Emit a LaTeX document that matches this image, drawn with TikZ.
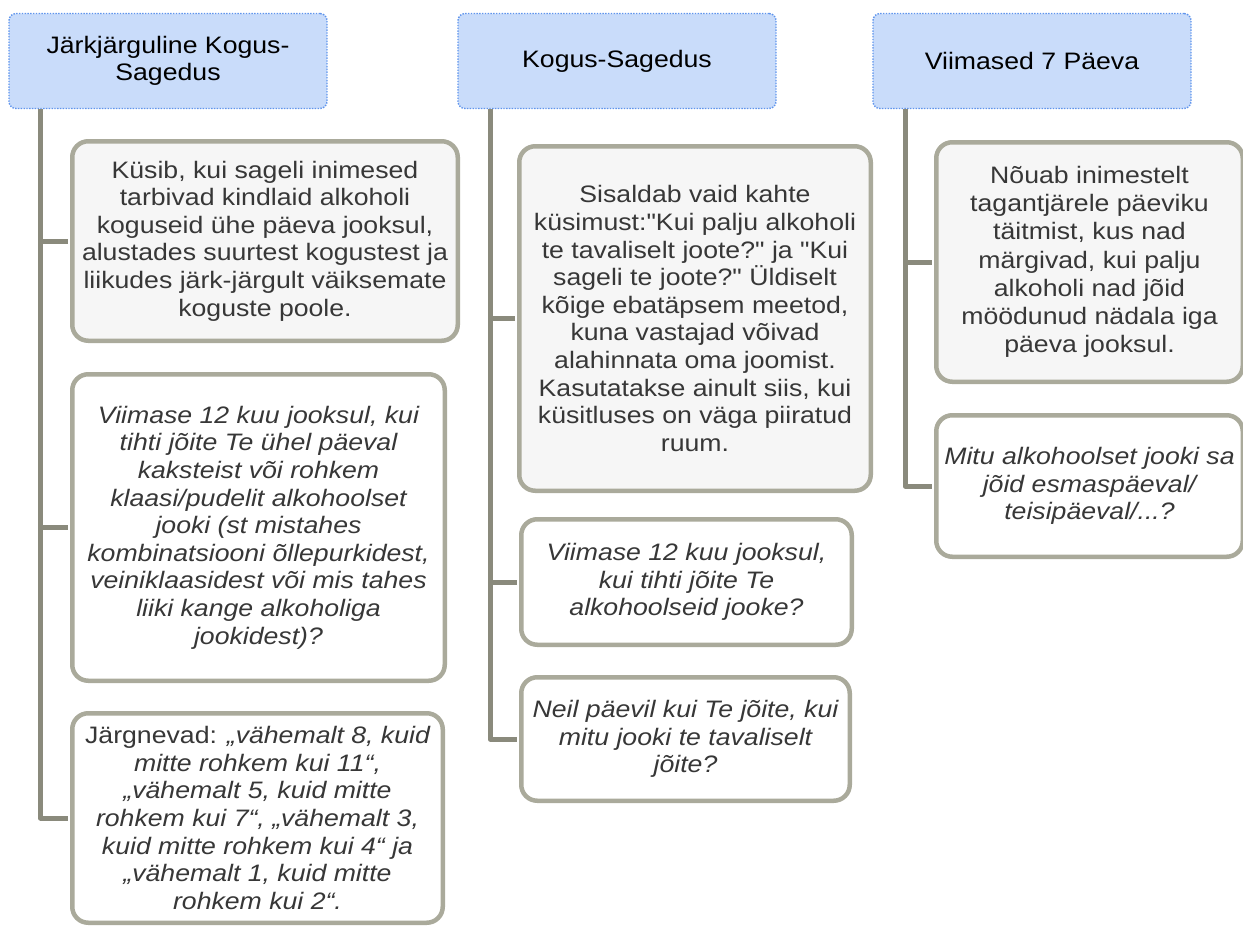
\documentclass[tikz,border=0pt]{standalone}
\usepackage{fontspec}
\usepackage{xcolor}
\usepackage{tikz}
\usetikzlibrary{positioning, calc}
\newfontfamily\diafont{Liberation Sans}[FakeStretch=1.12]
\definecolor{hdrfill}{RGB}{201,220,250}
\definecolor{hdrdot}{RGB}{95,148,236}
\definecolor{boxedge}{RGB}{170,170,155}
\definecolor{spinegray}{RGB}{138,138,124}
\definecolor{boxfill}{RGB}{246,246,246}
\definecolor{txtdark}{RGB}{55,55,55}
\tikzset{
  headbox/.style={rectangle, draw=hdrdot, fill=hdrfill,
    dash pattern=on 1.4pt off 1.4pt, line width=1.4pt,
    rounded corners=7pt, minimum width=318, minimum height=95,
    inner sep=0pt, align=center, text=black,
    font=\diafont\fontsize{23.8}{27.4}\selectfont},
  infobox/.style={rectangle, draw=boxedge, fill=boxfill,
    line width=4.5pt, rounded corners=16pt, inner sep=0pt,
    align=center, text=txtdark,
    font=\diafont\fontsize{23.8}{27.6}\selectfont},
  askbox/.style={infobox, fill=white,
    font=\diafont\fontsize{23.8}{27.6}\selectfont\itshape},
  branch/.style={draw=spinegray, line width=5pt, line join=round,
    shorten >=2pt}
}

\begin{document}
\begin{tikzpicture}[x=1pt, y=-1pt]
  \useasboundingbox (0,0) rectangle (1243,926);

  % Nodes Top (Headers)
  \node[headbox] (hdr_jk) at (168, 61) {Järkjärguline Kogus-\\Sagedus};
  \node[headbox] (hdr_ks) at (617, 61) {Kogus-Sagedus};
  \node[headbox] (hdr_p7) at (1032, 61) {Viimased 7 Päeva};

  % Spine start points
  \coordinate (spine_jk) at (40.5, 109);
  \coordinate (spine_ks) at (490, 109);
  \coordinate (spine_p7) at (905, 109);

  % Column 1
  \node[infobox, minimum width=385.5, minimum height=199.5] (jk_desc) at (265, 241)
    {Küsib, kui sageli inimesed\\tarbivad kindlaid alkoholi\\koguseid ühe päeva jooksul,\\alustades suurtest kogustest ja\\liikudes järk-järgult väiksemate\\koguste poole.};
  \node[askbox, minimum width=372.5, minimum height=306.5] (jk_q1) at (258.5, 527.5)
    {Viimase 12 kuu jooksul, kui\\tihti jõite Te ühel päeval\\kaksteist või rohkem\\klaasi/pudelit alkohoolset\\jooki (st mistahes\\kombinatsiooni õllepurkidest,\\veiniklaasidest või mis tahes\\liiki kange alkoholiga\\jookidest)?};
  \node[askbox, minimum width=370.5, minimum height=209.5] (jk_q2) at (257.5, 818)
    {\upshape Järgnevad: \itshape„vähemalt 8, kuid\\mitte rohkem kui 11“,\\„vähemalt 5, kuid mitte\\rohkem kui 7“, „vähemalt 3,\\kuid mitte rohkem kui 4“ ja\\„vähemalt 1, kuid mitte\\rohkem kui 2“.};

  % Column 2
  \node[infobox, minimum width=351.5, minimum height=344.5] (ks_desc) at (695, 318.5)
    {Sisaldab vaid kahte\\küsimust:"Kui palju alkoholi\\te tavaliselt joote?" ja "Kui\\sageli te joote?" Üldiselt\\kõige ebatäpsem meetod,\\kuna vastajad võivad\\alahinnata oma joomist.\\Kasutatakse ainult siis, kui\\küsitluses on väga piiratud\\ruum.};
  \node[askbox, minimum width=330.5, minimum height=125.5] (ks_q1) at (686.5, 582)
    {Viimase 12 kuu jooksul,\\kui tihti jõite Te\\alkohoolseid jooke?};
  \node[askbox, minimum width=328.5, minimum height=123.5] (ks_q2) at (685.5, 739)
    {Neil päevil kui Te jõite, kui\\mitu jooki te tavaliselt\\jõite?};

  % Column 3
  \node[infobox, minimum width=306.5, minimum height=239.5,
    font=\diafont\fontsize{23.8}{28.2}\selectfont] (p7_desc) at (1089.5, 262)
    {Nõuab inimestelt\\tagantjärele päeviku\\täitmist, kus nad\\märgivad, kui palju\\alkoholi nad jõid\\möödunud nädala iga\\päeva jooksul.};
  \node[askbox, minimum width=306.5, minimum height=141.5] (p7_q1) at (1089.5, 486)
    {Mitu alkohoolset jooki sa\\jõid esmaspäeval/\\teisipäeval/...?};

  % Connections
  \draw[branch] (spine_jk) |- (jk_q2.west);
  \draw[branch] (spine_jk |- jk_desc.west) -- (jk_desc.west);
  \draw[branch] (spine_jk |- jk_q1.west) -- (jk_q1.west);

  \draw[branch] (spine_ks) |- (ks_q2.west);
  \draw[branch] (spine_ks |- ks_desc.west) -- (ks_desc.west);
  \draw[branch] (spine_ks |- ks_q1.west) -- (ks_q1.west);

  \draw[branch] (spine_p7) |- (p7_q1.west);
  \draw[branch] (spine_p7 |- p7_desc.west) -- (p7_desc.west);
\end{tikzpicture}
\end{document}
